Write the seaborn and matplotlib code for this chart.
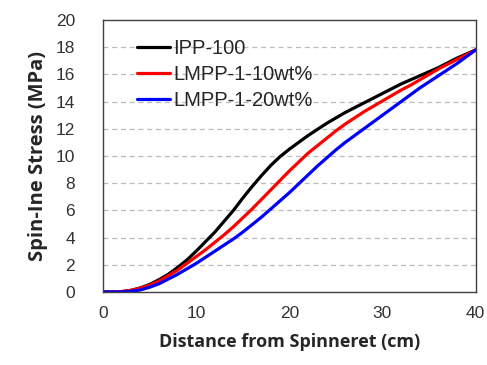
import numpy as np
import pandas as pd
import matplotlib
matplotlib.use("Agg")
import matplotlib.pyplot as plt
import seaborn as sns

# distance from spinneret (cm)
distance = list(range(0, 41))
# spin-line stress (MPa)
ipp_100 = [0, 0, 0.03, 0.12, 0.3, 0.55, 0.9, 1.3, 1.8, 2.35, 3.0, 3.7, 4.4, 5.2, 6.0, 6.9, 7.75,
           8.55, 9.3, 9.95, 10.5, 11.0, 11.5, 11.95, 12.4, 12.8, 13.2, 13.55, 13.9, 14.25, 14.6,
           14.95, 15.3, 15.6, 15.9, 16.2, 16.5, 16.85, 17.2, 17.5, 17.8]
lmpp_10 = [0, 0, 0.03, 0.12, 0.28, 0.5, 0.8, 1.2, 1.6, 2.1, 2.6, 3.1, 3.65, 4.2, 4.8, 5.45, 6.1,
           6.8, 7.5, 8.2, 8.9, 9.55, 10.2, 10.75, 11.3, 11.85, 12.35, 12.8, 13.25, 13.65, 14.05,
           14.45, 14.85, 15.2, 15.6, 16.0, 16.4, 16.75, 17.1, 17.45, 17.8]
lmpp_20 = [0, 0, 0, 0.05, 0.15, 0.35, 0.6, 0.95, 1.3, 1.7, 2.1, 2.55, 3.0, 3.45, 3.9, 4.4, 4.95,
           5.5, 6.1, 6.7, 7.3, 7.95, 8.6, 9.25, 9.85, 10.45, 11.0, 11.5, 12.0, 12.5, 13.0,
           13.5, 14.0, 14.5, 15.0, 15.45, 15.9, 16.35, 16.8, 17.3, 17.8]
labels = ["IPP-100", "LMPP-1-10wt%", "LMPP-1-20wt%"]
colors = ["#000000", "#ff0000", "#0000ff"]

df = pd.concat([
    pd.DataFrame({"distance": distance, "stress": s, "sample": lab})
    for s, lab in zip([ipp_100, lmpp_10, lmpp_20], labels)
])

sns.set_style("white")
plt.rcParams["font.family"] = ["Liberation Sans", "DejaVu Sans"]

fig = plt.figure(figsize=(4.87, 3.65), dpi=100)
ax = fig.add_axes([0.2115, 0.2, 0.765, 0.745])

sns.lineplot(data=df, x="distance", y="stress", hue="sample", palette=colors,
             linewidth=2.3, ax=ax)

ax.set_xlim(0, 40)
ax.set_ylim(0, 20)
ax.set_xticks([0, 10, 20, 30, 40])
ax.set_yticks(np.arange(0, 21, 2))
for yv in range(2, 20, 2):
    ax.axhline(yv, color="#bbbbbb", linestyle=(0, (4, 3)), linewidth=0.9, zorder=0)

ax.tick_params(axis="x", direction="in", length=5, width=1, colors="#333333",
               labelsize=12.5, pad=10, labelcolor="#333333")
ax.tick_params(axis="y", direction="out", length=3, width=1, colors="#333333",
               labelsize=12.5, pad=17, labelcolor="#333333")
for sp in ax.spines.values():
    sp.set_color("#404040")
    sp.set_linewidth(1.0)

ax.set_xlabel("Distance from Spinneret (cm)", family=["Open Sans", "DejaVu Sans"],
              fontweight="bold", fontsize=13, labelpad=9)
ax.set_ylabel("Spin-Ine Stress (MPa)", family=["Open Sans", "DejaVu Sans"],
              fontweight="bold", fontsize=14.5, labelpad=6)

ax.legend(title=None, loc="upper left", bbox_to_anchor=(0.058, 0.975), frameon=False,
          fontsize=14.5, handlelength=1.65, handletextpad=0.15, labelspacing=0.35,
          borderaxespad=0.2)

fig.savefig("out.png", dpi=100)
